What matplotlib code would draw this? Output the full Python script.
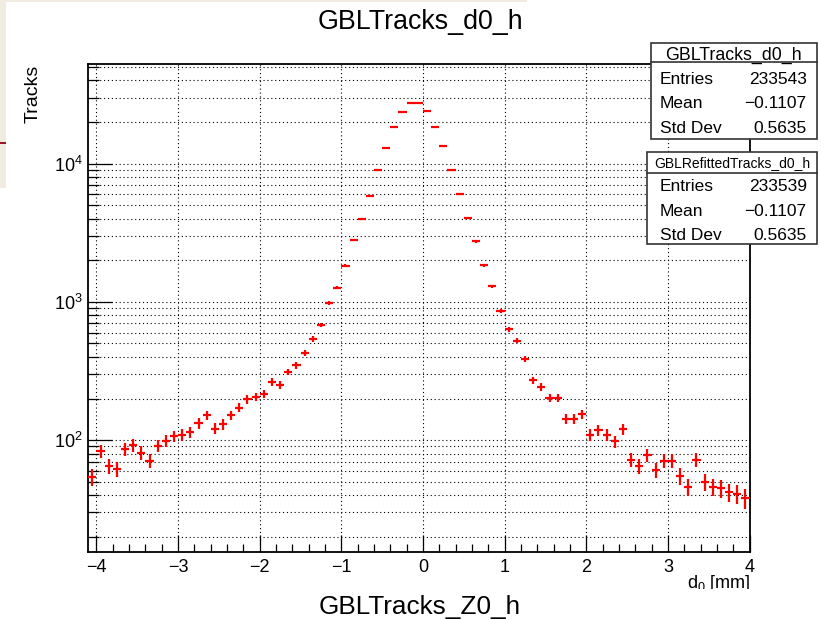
import numpy as np
import matplotlib
matplotlib.use("Agg")
import matplotlib.pyplot as plt
from matplotlib.patches import Rectangle
from matplotlib.ticker import MultipleLocator, LogLocator, NullFormatter

plt.rcParams['font.family'] = ['Liberation Sans', 'DejaVu Sans']
plt.rcParams['mathtext.fontset'] = 'custom'
plt.rcParams['mathtext.rm'] = 'Liberation Sans'
plt.rcParams['mathtext.it'] = 'Liberation Sans'

# histogram binning (d0 in mm)
x_low, x_high, n_bins = -4.1, 4.0, 81

# bin contents
counts = [54, 83, 65, 62, 86, 92, 81, 71, 91, 99,
          107, 109, 114, 132, 151, 121, 130, 151, 172, 198,
          206, 216, 264, 252, 311, 348, 425, 539, 680, 987, 1268,
          1824, 2813, 3963, 5875, 9017, 13060, 18420, 23710, 27230, 27230,
          23860, 18500, 13340, 9017, 5997, 4009, 2735, 1836, 1294, 853,
          632, 525, 386, 272, 243, 202, 202, 143, 143, 154,
          109, 118, 109, 98, 120, 72, 65, 78, 61, 71,
          71, 55, 46, 72, 50, 46, 45, 42, 41, 38]

stat_titles = ["GBLTracks_d0_h", "GBLRefittedTracks_d0_h"]
stat_labels = ["Entries", "Mean", "Std Dev"]
stat_values = [["233543", "\u22120.1107", "0.5635"],
               ["233539", "\u22120.1107", "0.5635"]]

W, H = 821, 620


def px(x, y):
    return x / W, 1 - y / H


fig = plt.figure(figsize=(W / 100, H / 100), dpi=100)

# bits of the surrounding window
fig.patches.append(Rectangle(px(0, 2.3), 527 / W, 2.3 / H, transform=fig.transFigure,
                             facecolor='#f1ece0', edgecolor='none'))
fig.patches.append(Rectangle(px(0, 188), 6 / W, 188 / H, transform=fig.transFigure,
                             facecolor='#f1ece0', edgecolor='none'))
fig.patches.append(Rectangle(px(0, 144), 6 / W, 2 / H, transform=fig.transFigure,
                             facecolor='#a01428', edgecolor='none'))

l, b = px(88.3, 551.7)
r, t = px(749.5, 64)
ax = fig.add_axes([l, b, r - l, t - b])

edges = np.linspace(x_low, x_high, n_bins + 1)
centers = 0.5 * (edges[:-1] + edges[1:])
y = np.array(counts, dtype=float)
half = 0.5 * (edges[1] - edges[0])

ax.errorbar(centers, y, xerr=half, yerr=np.sqrt(y), fmt='none',
            ecolor='blue', elinewidth=1.2, capsize=0, zorder=3)
ax.errorbar(centers, y, xerr=half, yerr=np.sqrt(y), fmt='none',
            ecolor='red', elinewidth=1.6, capsize=0, zorder=4)

ax.set_yscale('log')
ax.set_xlim(x_low, x_high)
ax.set_ylim(15.6, 52500)

ax.xaxis.set_major_locator(MultipleLocator(1))
ax.xaxis.set_minor_locator(MultipleLocator(0.2))
ax.yaxis.set_major_locator(LogLocator(base=10))
ax.yaxis.set_minor_locator(LogLocator(base=10, subs=np.arange(2, 10)))
ax.yaxis.set_minor_formatter(NullFormatter())

dots = (0, (1, 2.5))
ax.grid(True, axis='x', which='major', color='black', linestyle=dots, linewidth=0.8)
ax.grid(True, axis='y', which='both', color='black', linestyle=dots, linewidth=0.8)
ax.set_axisbelow(True)

ax.tick_params(axis='both', which='both', direction='in', top=False, right=False,
               width=0.9, color='black')
ax.tick_params(axis='x', which='major', length=12, pad=5, labelsize=13)
ax.tick_params(axis='x', which='minor', length=6)
ax.tick_params(axis='y', which='major', length=17, pad=4, labelsize=13)
ax.tick_params(axis='y', which='minor', length=8)
for s in ax.spines.values():
    s.set_linewidth(1.3)

fig.text(*px(420, 22), "GBLTracks_d0_h", fontsize=19.3, ha='center', va='center')
fig.text(*px(33, 94), "Tracks", fontsize=14, rotation=90, ha='center', va='center')
fig.text(*px(750, 584), "d$_0$ [mm]", fontsize=13, ha='right', va='center')

# lower canvas covers the bottom of the axis title
fig.patches.append(Rectangle(px(0, 620), 1, 31 / H, transform=fig.transFigure,
                             facecolor='white', edgecolor='none', zorder=5))
fig.text(*px(420, 607), "GBLTracks_Z0_h", fontsize=18.8, ha='center', va='center', zorder=6)

# stat boxes
boxes = [(651, 816.7, 42.7, 139.3, 61.7, 55, [79.3, 104, 128.3], 12.8),
         (647, 816.7, 152.3, 244.3, 172.7, 162.7, [186.7, 211, 235], 10)]
for i, (x0, x1, y0, y1, ysep, ytitle, rows, tsize) in enumerate(boxes):
    fig.patches.append(Rectangle(px(x0, y1), (x1 - x0) / W, (y1 - y0) / H,
                                 transform=fig.transFigure, facecolor='white',
                                 edgecolor='#333333', linewidth=1.2, zorder=7))
    fig.lines.append(plt.Line2D([x0 / W, x1 / W], [px(0, ysep)[1]] * 2,
                                transform=fig.transFigure, color='#333333',
                                linewidth=1.2, zorder=8))
    fig.text(*px((x0 + x1) / 2, ytitle), stat_titles[i], fontsize=tsize,
             ha='center', va='center', zorder=9)
    for lab, val, yy in zip(stat_labels, stat_values[i], rows):
        fig.text(*px(660, yy), lab, fontsize=12.5, ha='left', va='center', zorder=9)
        fig.text(*px(806.7, yy), val, fontsize=12.5, ha='right', va='center', zorder=9)

fig.savefig("out.png", dpi=100)
plt.close(fig)
